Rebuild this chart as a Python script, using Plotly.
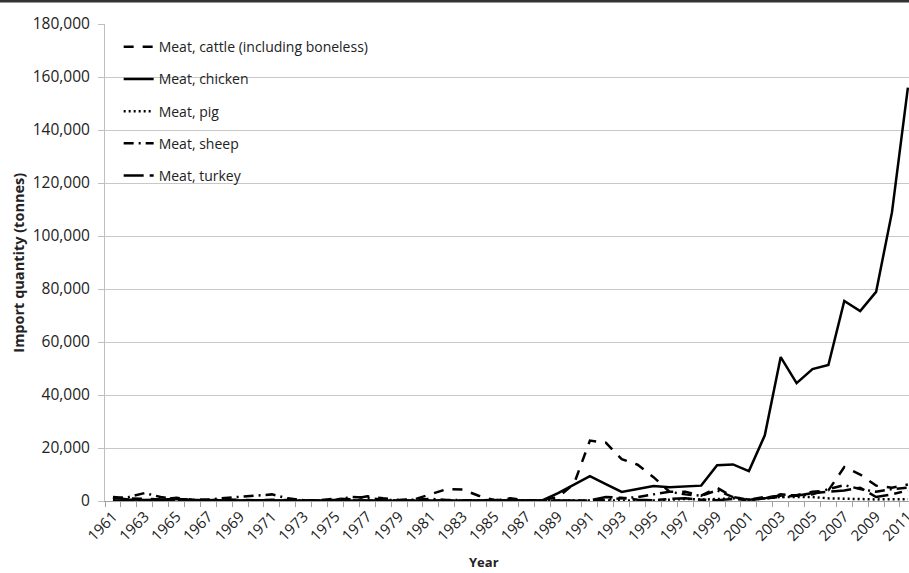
import plotly.graph_objects as go

years = list(range(1961, 2012))

cattle = [1500, 1000, 800, 600, 1200, 500, 300, 600, 400, 300,
          500, 300, 200, 300, 900, 600, 1800, 1000, 400, 700,
          2500, 4500, 4300, 2000, 300, 1000, 300, 300, 1500, 6500,
          22800, 22000, 15800, 13700, 9000, 3500, 3500, 2000, 5000, 1500,
          500, 1500, 2000, 2200, 3500, 4000, 12800, 10000, 5800, 5000,
          6200]

chicken = [1200, 600, 400, 500, 800, 400, 300, 200, 200, 300,
           200, 100, 100, 100, 200, 100, 100, 100, 100, 200,
           200, 100, 100, 100, 100, 100, 100, 200, 3000, 6200,
           9400, 6400, 3400, 4500, 5700, 5200, 5600, 5800, 13500, 13800,
           11300, 24800, 54300, 44500, 49800, 51300, 75500, 71700, 78900, 109000,
           156000]

pig = [0, 0, 0, 0, 0, 0, 0, 0, 0, 0,
       0, 0, 0, 0, 0, 0, 0, 0, 0, 0,
       0, 0, 0, 0, 0, 0, 0, 0, 0, 0,
       100, 100, 100, 200, 200, 500, 800, 500, 800, 1000,
       500, 1000, 1500, 1500, 1500, 1000, 800, 700, 600, 700,
       700]

sheep = [800, 1500, 3000, 1500, 800, 500, 600, 1200, 1600, 2000,
         2500, 1000, 300, 200, 500, 1500, 1200, 500, 300, 500,
         800, 400, 300, 200, 500, 300, 200, 100, 100, 100,
         100, 500, 1000, 1500, 2500, 3500, 2500, 2000, 4000, 1500,
         500, 1000, 1500, 1800, 2500, 4500, 6000, 4500, 3500, 4500,
         5000]

turkey = [100, 100, 100, 100, 100, 100, 100, 100, 100, 100,
          100, 100, 100, 100, 100, 100, 100, 100, 100, 100,
          100, 100, 100, 100, 100, 100, 100, 100, 100, 100,
          200, 1500, 1200, 500, 300, 800, 1000, 500, 300, 800,
          300, 1000, 2500, 2000, 3000, 3500, 4000, 5000, 1500, 2500,
          4000]

series = [
    ("Meat, cattle (including boneless)", cattle, "10px,9px"),
    ("Meat, chicken", chicken, "solid"),
    ("Meat, pig", pig, "2px,3px"),
    ("Meat, sheep", sheep, "10px,5px,2px,5px"),
    ("Meat, turkey", turkey, "20px,6px,8px,6px"),
]

FONT = "Open Sans"
TEXT = "#222222"

fig = go.Figure()
for name, values, dash in series:
    fig.add_trace(go.Scatter(
        x=years, y=values, name=name, mode="lines",
        legendgroup=name,
        line=dict(color="black", width=2.5, dash=dash),
    ))

fig.update_layout(
    width=909, height=573,
    margin=dict(l=105, r=0, t=24, b=72),
    paper_bgcolor="white", plot_bgcolor="white",
    font=dict(family=FONT, size=14, color=TEXT),
    showlegend=True,
    legend=dict(
        x=0.017, y=0.985, xanchor="left", yanchor="top",
        bgcolor="rgba(255,255,255,0)", borderwidth=0,
        font=dict(family=FONT, size=14, color=TEXT),
        tracegroupgap=11,
    ),
    xaxis=dict(
        range=[1960.5, 2011.07], automargin=False,
        tickmode="array", tickvals=years[::2], ticktext=[str(y) for y in years[::2]],
        tickangle=-45, ticks="", showgrid=False, zeroline=False,
        ticklabeloverflow="allow",
        showline=True, linecolor="#a0a0a0", linewidth=1,
        minor=dict(ticks="outside", tick0=1960.5, dtick=1, ticklen=5,
                   tickcolor="#a0a0a0", showgrid=False),
        tickfont=dict(family=FONT, size=15, color=TEXT),
    ),
    yaxis=dict(
        range=[0, 180000], dtick=20000, tickformat=",d", automargin=False,
        showgrid=True, gridcolor="#c8c8c8", gridwidth=1,
        zeroline=False, showline=True, linecolor="#bfbfbf", linewidth=1,
        ticks="outside", ticklen=6, tickcolor="#bfbfbf",
        ticklabelstandoff=5,
        tickfont=dict(family=FONT, size=15.5, color=TEXT),
    ),
    annotations=[
        dict(text="<b>Year</b>", xref="paper", yref="paper",
             x=0.471, y=-0.128, xanchor="center", yanchor="middle",
             showarrow=False, font=dict(family=FONT, size=13, color=TEXT)),
        dict(text="<b>Import quantity (tonnes)</b>", xref="paper", yref="paper",
             x=-0.108, y=0.5, xanchor="center", yanchor="middle", textangle=-90,
             showarrow=False, font=dict(family=FONT, size=14.5, color=TEXT)),
    ],
    shapes=[
        dict(type="line", xref="paper", yref="paper",
             x0=-0.14, x1=1.0, y0=1.048, y1=1.048,
             line=dict(color="#333333", width=3)),
    ],
)

fig.write_html("out.html")
